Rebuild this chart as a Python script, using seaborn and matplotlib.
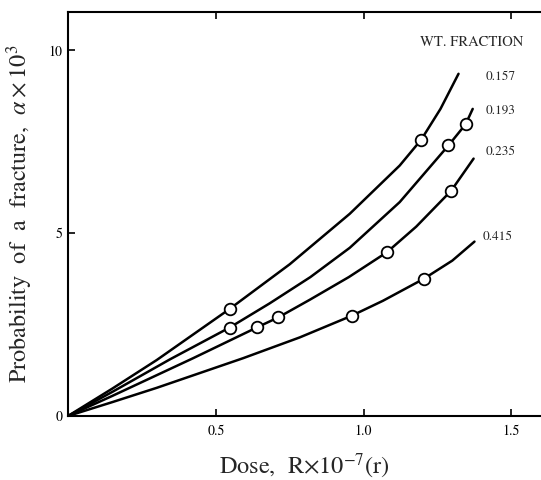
import pandas as pd
import matplotlib.pyplot as plt
import seaborn as sns

sns.set_theme(style='ticks')
plt.rcParams['font.family'] = ['STIXGeneral', 'DejaVu Serif']
plt.rcParams['mathtext.fontset'] = 'stix'

fractions = ['0.157', '0.193', '0.235', '0.415']

# curve points (dose, alpha x 10^3)
curve_x = {
    '0.157': [0, 0.15, 0.30, 0.547, 0.75, 0.953, 1.122, 1.195, 1.26, 1.321],
    '0.193': [0, 0.15, 0.345, 0.547, 0.682, 0.82, 0.953, 1.122, 1.287, 1.345, 1.369],
    '0.235': [0, 0.15, 0.423, 0.641, 0.712, 0.818, 0.95, 1.079, 1.178, 1.296, 1.372],
    '0.415': [0, 0.15, 0.30, 0.592, 0.784, 0.959, 1.065, 1.203, 1.30, 1.375],
}
curve_y = {
    '0.157': [0, 0.75, 1.53, 2.93, 4.15, 5.53, 6.85, 7.56, 8.40, 9.36],
    '0.193': [0, 0.66, 1.55, 2.42, 3.08, 3.80, 4.60, 5.85, 7.40, 7.98, 8.40],
    '0.235': [0, 0.55, 1.58, 2.43, 2.70, 3.18, 3.80, 4.48, 5.18, 6.16, 7.04],
    '0.415': [0, 0.38, 0.77, 1.58, 2.15, 2.74, 3.15, 3.75, 4.25, 4.77],
}

# measured points
point_x = {
    '0.157': [0.547, 1.195],
    '0.193': [0.547, 1.287, 1.345],
    '0.235': [0.641, 0.712, 1.079, 1.296],
    '0.415': [0.959, 1.203],
}
point_y = {
    '0.157': [2.93, 7.56],
    '0.193': [2.42, 7.40, 7.98],
    '0.235': [2.43, 2.70, 4.48, 6.16],
    '0.415': [2.74, 3.75],
}

label_y = {'0.157': 9.26, '0.193': 8.33, '0.235': 7.21, '0.415': 4.89}
label_x = {'0.157': 1.412, '0.193': 1.412, '0.235': 1.412, '0.415': 1.402}

curves = pd.concat([pd.DataFrame({'dose': curve_x[f], 'alpha': curve_y[f], 'frac': f})
                    for f in fractions])
points = pd.concat([pd.DataFrame({'dose': point_x[f], 'alpha': point_y[f], 'frac': f})
                    for f in fractions])

fig = plt.figure(figsize=(5.41, 4.8), dpi=100)
ax = fig.add_axes([68 / 541, 64 / 480, 1 - 68 / 541, (416 - 12) / 480])

sns.lineplot(data=curves, x='dose', y='alpha', units='frac', estimator=None,
             sort=False, color='black', linewidth=1.8, ax=ax)
sns.scatterplot(data=points, x='dose', y='alpha', marker='o', s=70,
                facecolor='white', edgecolor='black', linewidth=1.3,
                zorder=3, ax=ax)

for f in fractions:
    ax.text(label_x[f], label_y[f], f, fontsize=9.5, va='center', ha='left')
ax.text(1.19, 10.22, 'WT. FRACTION', fontsize=10.5, va='center', ha='left')

ax.set_xlim(0, 1.6)
ax.set_ylim(0, 11.05)
ax.set_xticks([0.5, 1.0, 1.5])
ax.set_xticklabels(['0.5', '1.0', '1.5'])
ax.set_yticks([0, 5, 10])
ax.set_yticklabels(['0', '5', '10'])
ax.tick_params(direction='in', length=5, width=1.2, labelsize=10, colors='black',
               top=True, right=False)
ax.tick_params(axis='x', pad=6)
ax.tick_params(axis='y', pad=4)
ax.spines['right'].set_visible(False)
for s in ['left', 'bottom', 'top']:
    ax.spines[s].set_linewidth(1.5)
    ax.spines[s].set_color('black')

ax.set_xlabel(r'Dose,  R$\times$10$^{-7}$(r)', fontsize=17.5, labelpad=10)
ax.set_ylabel(r'Probability  of  a  fracture,  $\alpha\times$10$^3$', fontsize=17.5,
              labelpad=10)

fig.savefig('out.png', dpi=100)
